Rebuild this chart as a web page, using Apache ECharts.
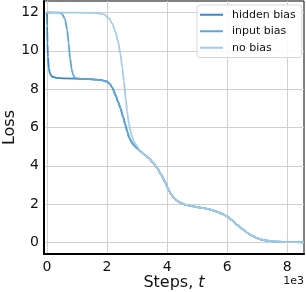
<!DOCTYPE html>
<html><head><meta charset="utf-8">
<script src="https://cdn.jsdelivr.net/npm/echarts@6/dist/echarts.min.js"></script>
<style>html,body{margin:0;padding:0;background:#fff}#c{width:306px;height:292px}</style>
</head><body><div id="c"></div>
<script>
// t in units of 1e3 steps
const tail = [[3.11,4.76],[3.25,4.58],[3.39,4.4],[3.53,4.17],[3.67,3.88],[3.8,3.55],[3.92,3.2],[4.02,2.85],[4.12,2.55],[4.22,2.33],[4.33,2.18],[4.44,2.08],[4.6,1.98],[4.77,1.91],[5.0,1.85],[5.22,1.79],[5.45,1.71],[5.66,1.61],[5.85,1.48],[6.0,1.36],[6.17,1.15],[6.33,0.92],[6.5,0.71],[6.66,0.52],[6.82,0.36],[6.99,0.23],[7.15,0.15],[7.32,0.1],[7.5,0.06],[7.7,0.04],[8.0,0.02],[8.56,0.01]];
const plateauDrop = [[1.2,8.54],[1.6,8.5],[1.85,8.46],[1.98,8.41],[2.08,8.3],[2.18,8.07],[2.28,7.7],[2.37,7.33],[2.45,7.0],[2.53,6.57],[2.61,6.14],[2.67,5.8],[2.74,5.47],[2.81,5.25],[2.89,5.08],[3.0,4.92]];
const hiddenBias = [[0,12],[0.005,11.3],[0.015,10.4],[0.03,9.7],[0.06,9.1],[0.1,8.8],[0.17,8.66],[0.3,8.59],[0.6,8.56]].concat(plateauDrop, tail);
const inputBias = [[0,12],[0.4,11.99],[0.5,11.93],[0.6,11.65],[0.67,11.1],[0.72,10.4],[0.77,9.6],[0.82,9.05],[0.87,8.75],[0.92,8.6],[1.0,8.56]].concat(plateauDrop, tail);
const noBias = [[0,12],[1.0,11.99],[1.6,11.98],[1.9,11.9],[2.06,11.7],[2.18,11.4],[2.28,11.0],[2.37,10.45],[2.45,9.8],[2.51,9.1],[2.56,8.4],[2.62,7.55],[2.67,6.8],[2.73,6.2],[2.78,5.8],[2.84,5.48],[2.9,5.25],[3.0,5.02]].concat(tail);
const xTicks = [0,2,4,6,8];
const yTicks = [0,2,4,6,8,10,12];
const seriesNames = ['hidden bias','input bias','no bias'];
const colors = ['#3a86c6','#5ea5d8','#a3cce6'];

const chart = echarts.init(document.getElementById('c'));
const font = 'DejaVu Sans';
function mk(name, data, color){
  return {name, type:'line', data, smooth:0.25, smoothMonotone:'x', symbol:'none', lineStyle:{color, width:1.8}, itemStyle:{color}, z:3};
}
chart.setOption({
  animation:false,
  grid:{left:44, top:1, width:260, height:253, show:true, borderColor:'#000', borderWidth:1, containLabel:false, outerBoundsMode:'none'},
  legend:{
    left:197, top:5, orient:'vertical', padding:[3,6,3,3], itemGap:3,
    backgroundColor:'rgba(255,255,255,0.85)', borderColor:'#d8d8d8', borderWidth:1, borderRadius:3,
    itemWidth:23, itemHeight:2, icon:'rect',
    textStyle:{fontFamily:font, fontSize:11, color:'#111', lineHeight:13.5, padding:[0,0,0,4]},
    data:seriesNames
  },
  xAxis:{type:'value', min:-0.1, max:8.56,
    name:'{a|Steps, }{b|t}', nameLocation:'middle', nameGap:21, nameMoveOverlap:false,
    nameTextStyle:{rich:{a:{fontFamily:font, fontSize:16, color:'#111'}, b:{fontFamily:font, fontSize:16, fontStyle:'italic', color:'#111'}}},
    axisLine:{show:true, onZero:false, lineStyle:{color:'#000', width:2}},
    axisTick:{show:false, customValues:xTicks},
    axisLabel:{customValues:xTicks, fontFamily:font, fontSize:14, color:'#111', margin:6},
    splitLine:{show:true, lineStyle:{color:'#d0d0d0', width:1}}
  },
  yAxis:{type:'value', min:-0.6, max:12.6,
    name:'Loss', nameLocation:'middle', nameGap:26, nameRotate:90, nameMoveOverlap:false,
    nameTextStyle:{fontFamily:font, fontSize:16, color:'#111'},
    axisLine:{show:true, onZero:false, lineStyle:{color:'#000', width:2}},
    axisTick:{show:false, customValues:yTicks},
    axisLabel:{customValues:yTicks, fontFamily:font, fontSize:14, color:'#111', margin:5},
    splitLine:{show:true, lineStyle:{color:'#d0d0d0', width:1}}
  },
  graphic:[{type:'text', right:2, top:276, style:{text:'1e3', font:'11px "DejaVu Sans"', fill:'#111'}}],
  series:[mk(seriesNames[0], hiddenBias, colors[0]), mk(seriesNames[1], inputBias, colors[1]), mk(seriesNames[2], noBias, colors[2])]
});
</script></body></html>
